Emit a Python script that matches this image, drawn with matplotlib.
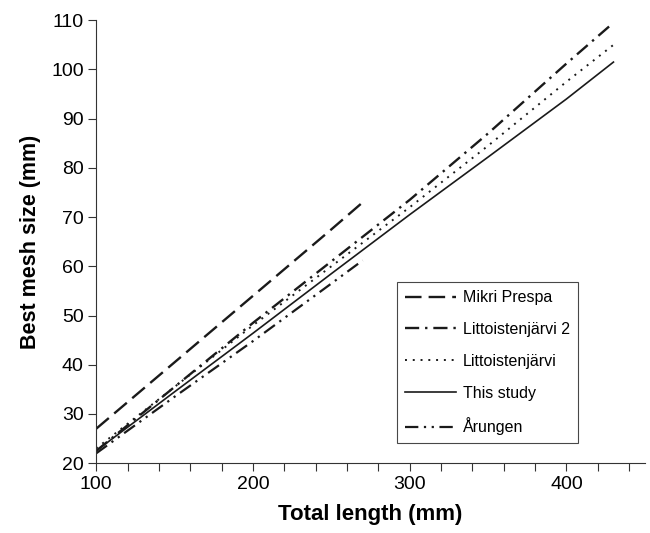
import matplotlib
matplotlib.use("Agg")
import matplotlib.pyplot as plt
from matplotlib.ticker import MultipleLocator, FixedLocator

plt.rcParams['font.family'] = ['Liberation Sans', 'DejaVu Sans']

# values
mikri_x = [100, 150, 200, 250, 270]
mikri_y = [27.0, 40.5, 54.0, 67.5, 73.0]

litt2_x = [100, 150, 200, 250, 300, 350, 400, 430]
litt2_y = [22.5, 35.5, 48.5, 61.0, 73.5, 87.0, 101.2, 109.5]

litt_x = [100, 150, 200, 250, 300, 350, 400, 430]
litt_y = [23.0, 35.5, 48.0, 60.0, 72.0, 84.5, 97.5, 105.0]

this_x = [100, 150, 200, 250, 300, 350, 400, 430]
this_y = [22.5, 34.5, 46.4, 58.5, 70.5, 82.2, 94.0, 101.5]

arungen_x = [100, 150, 200, 250, 270]
arungen_y = [22.0, 33.5, 44.8, 56.5, 61.2]

fig = plt.figure(figsize=(6.5, 5.33), dpi=100)
ax = fig.add_axes([0.148, 0.131, 0.844, 0.831])

ink = '#1a1a1a'
ax.plot(mikri_x, mikri_y, color=ink, lw=1.7, linestyle=(0, (7, 3)), label='Mikri Prespa')
ax.plot(litt2_x, litt2_y, color=ink, lw=1.7, linestyle=(0, (6, 2.5, 1, 2.5)), label='Littoistenjärvi 2')
ax.plot(litt_x, litt_y, color=ink, lw=1.4, linestyle=(0, (1, 3)), label='Littoistenjärvi')
ax.plot(this_x, this_y, color=ink, lw=1.2, linestyle='-', label='This study')
ax.plot(arungen_x, arungen_y, color=ink, lw=1.6, linestyle=(0, (6, 2.5, 1, 2.5, 1, 2.5)), label='Årungen')

ax.set_xlim(100, 450)
ax.set_ylim(20, 110)
ax.xaxis.set_major_locator(FixedLocator([100, 200, 300, 400]))
ax.xaxis.set_minor_locator(MultipleLocator(20))
ax.yaxis.set_major_locator(MultipleLocator(10))
ax.tick_params(axis='both', which='both', direction='out', labelsize=14, width=0.8, color='#333333')
ax.tick_params(axis='both', which='major', length=6)
ax.tick_params(axis='x', which='minor', length=6)
ax.tick_params(axis='y', pad=3)

for s in ['top', 'right']:
    ax.spines[s].set_visible(False)
for s in ['left', 'bottom']:
    ax.spines[s].set_linewidth(0.8)
    ax.spines[s].set_color('#333333')

ax.set_xlabel('Total length (mm)', fontsize=16, fontweight='bold', labelpad=8)
ax.set_ylabel('Best mesh size (mm)', fontsize=15.5, fontweight='bold', labelpad=7)

leg = ax.legend(loc='lower right', bbox_to_anchor=(0.878, 0.045), fontsize=11.5,
                frameon=True, fancybox=False, edgecolor=ink, handlelength=3.2,
                borderpad=0.5, labelspacing=1.05, handletextpad=0.45, borderaxespad=0)
leg.get_frame().set_linewidth(0.8)

fig.savefig('out.png', dpi=100)
